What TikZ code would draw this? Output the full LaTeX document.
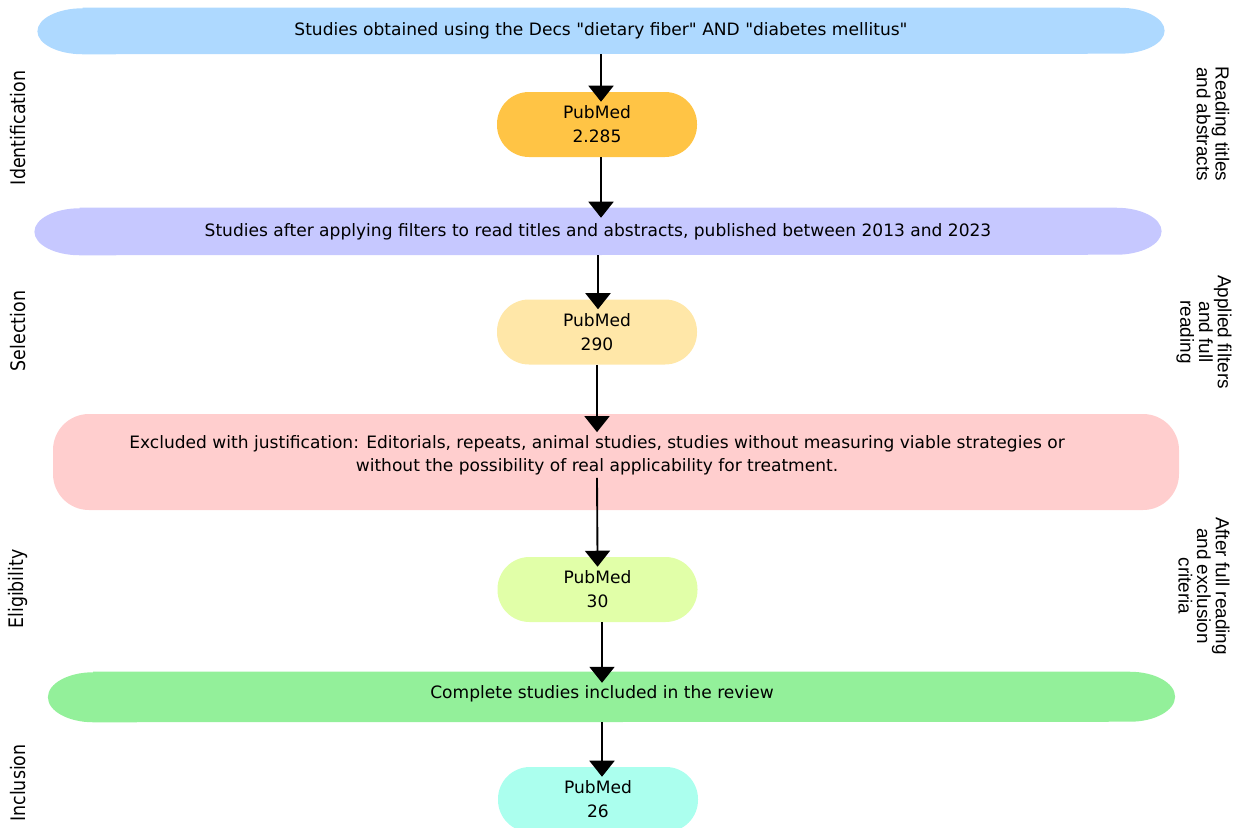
\documentclass[tikz,border=0pt]{standalone}
\usepackage{fontspec}
\usetikzlibrary{arrows.meta,positioning,backgrounds}
\setmainfont{DejaVu Sans}[Ligatures=TeXOff]
\newfontfamily\stagefont{DejaVu Sans}[FakeStretch=0.87]
\newfontfamily\notefont{Liberation Sans}
\definecolor{searchblue}{HTML}{AED9FF}
\definecolor{filterpurple}{HTML}{C6C8FF}
\definecolor{excludered}{HTML}{FFCECE}
\definecolor{includegreen}{HTML}{93F09A}
\definecolor{pmorange}{HTML}{FFC445}
\definecolor{pmsand}{HTML}{FFE7A8}
\definecolor{pmlime}{HTML}{E1FFA8}
\definecolor{pmaqua}{HTML}{ABFFEE}

\begin{document}
\begin{tikzpicture}[x=0.75pt, y=-0.75pt,
    boxtext/.style={font=\fontsize{12.8}{17.5}\selectfont, align=center},
    band/.style={boxtext, minimum width=845pt, inner sep=0pt},
    pubmed/.style={fill=#1, minimum width=150pt, minimum height=48.75pt,
      rounded corners=24pt, inner sep=0pt, align=center,
      font=\fontsize{12.8}{18}\selectfont},
    stage/.style={rotate=90, font=\stagefont\fontsize{15}{18}\selectfont},
    note/.style={rotate=-90, align=center, font=\notefont\fontsize{14.2}{14}\selectfont},
    flow/.style={-{Triangle[width=18.75pt,length=12pt]}, line width=1.4pt, shorten >=-7.5pt}]
        \useasboundingbox (0,0) rectangle (1240,828);

        % Search and counts
        \node[band, minimum height=34.5pt] (search) at (601,31)
            {Studies obtained using the Decs "dietary fiber" AND "diabetes mellitus"};
        \node[pubmed=pmorange] (pm1) at (597,124.5) {PubMed\\2.285};
        \node[band, minimum height=35.25pt] (filter) at (598,231.5)
            {Studies after applying filters to read titles and abstracts, published between 2013 and 2023};
        \node[pubmed=pmsand] (pm2) at (597,332) {PubMed\\290};

        % Exclusion box
        \node[fill=excludered, minimum width=844.5pt, minimum height=72pt, rounded corners=27pt] (excl) at (616,462) {};
        \node[boxtext, inner sep=2pt] (excltxt) at (597,455)
            {Excluded with justification: Editorials, repeats, animal studies, studies without measuring viable strategies or\\
             without the possibility of real applicability for treatment.};
        \node[pubmed=pmlime] (pm3) at (597.5,589.5) {PubMed\\30};

        % Inclusion
        \node[band, minimum height=37.5pt] (incl) at (611.5,697) {};
        \node[boxtext, inner sep=2pt] (incltxt) at (602,694) {Complete studies included in the review};
        \node[pubmed=pmaqua] (pm4) at (598,799.5) {PubMed\\26};

        % Band backgrounds with oval ends
        \begin{scope}[on background layer]
          \fill[searchblue] ([xshift=34pt]search.north west) -- ([xshift=-34pt]search.north east)
            arc[start angle=90, end angle=-90, x radius=34pt, y radius=17.25pt]
            -- ([xshift=34pt]search.south west)
            arc[start angle=270, end angle=90, x radius=34pt, y radius=17.25pt] -- cycle;
          \fill[filterpurple] ([xshift=34pt]filter.north west) -- ([xshift=-34pt]filter.north east)
            arc[start angle=90, end angle=-90, x radius=34pt, y radius=17.625pt]
            -- ([xshift=34pt]filter.south west)
            arc[start angle=270, end angle=90, x radius=34pt, y radius=17.625pt] -- cycle;
          \fill[includegreen] ([xshift=34pt]incl.north west) -- ([xshift=-34pt]incl.north east)
            arc[start angle=90, end angle=-90, x radius=34pt, y radius=18.75pt]
            -- ([xshift=34pt]incl.south west)
            arc[start angle=270, end angle=90, x radius=34pt, y radius=18.75pt] -- cycle;
        \end{scope}

        % Arrows
        \draw[flow] (search.south) -- (search.south |- pm1.north);
        \draw[flow] (search.south |- pm1.south) -- (search.south |- filter.north);
        \draw[flow] (filter.south) -- (filter.south |- pm2.north);
        \draw[flow, shorten >=0pt] (pm2.south) -- (excltxt.north);
        \draw[flow] (excltxt.south) -- (pm3.north);
        \draw[flow, shorten >=0pt] (incltxt.north |- pm3.south) -- (incltxt.north);
        \draw[flow] (incltxt |- incl.south) -- (incltxt |- pm4.north);

        % Stage labels
        \node[stage] (sident) at (18,128) {Identification};
        \node[stage] (ssel) at (18,331) {Selection};
        \node[stage] (selig) at (18,589) {Eligibility};
        \node[stage] (sincl) at (18,783) {Inclusion};

        % Side notes
        \node[note] (nread) at (1213,124) {Reading titles\\and abstracts};
        \node[note] (napp) at (1204,332) {Applied filters\\and full\\reading};
        \node[note] (nafter) at (1204,586) {After full reading\\and exclusion\\criteria};
      \end{tikzpicture}
\end{document}
